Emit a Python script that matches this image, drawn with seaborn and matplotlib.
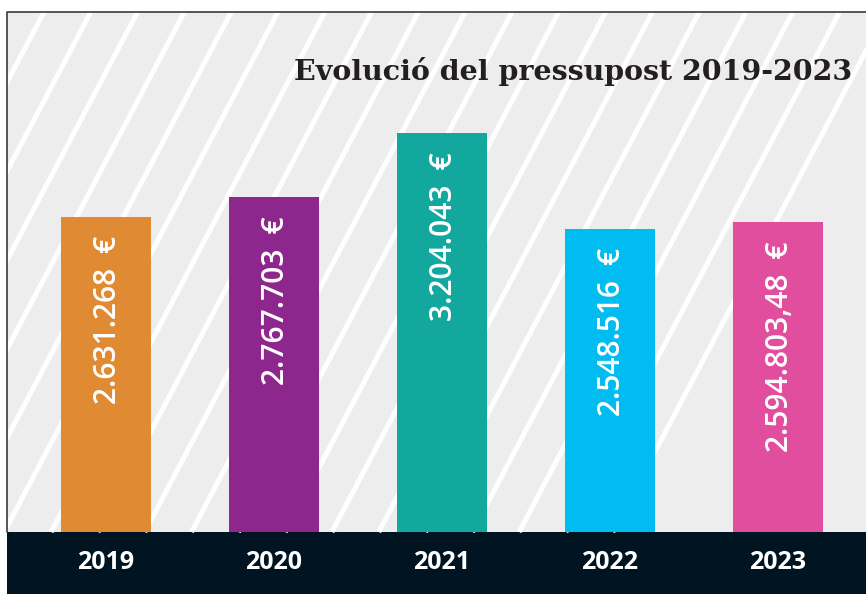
import numpy as np
import pandas as pd
import matplotlib
matplotlib.use("Agg")
import matplotlib.pyplot as plt
import seaborn as sns

years = ["2019", "2020", "2021", "2022", "2023"]
budget = [2631268, 2767703, 3204043, 2548516, 2594803.48]
labels = ["2.631.268 €", "2.767.703 €", "3.204.043 €", "2.548.516 €", "2.594.803,48 €"]
colors = ["#E08A33", "#8E278D", "#13A89E", "#00BCF0", "#E04E9D"]
title = "Evolució del pressupost 2019-2023"


def main():
    sns.set_theme(style="white")
    plt.rcParams["font.family"] = ["Open Sans", "DejaVu Sans"]

    W, H = 866, 594
    fig = plt.figure(figsize=(W / 100, H / 100), dpi=100)

    # background with diagonal stripes, in pixel coordinates
    bg = fig.add_axes([0, 0, 1, 1], zorder=0)
    bg.axis("off")
    bg.add_patch(plt.Rectangle((7, 12), W - 7, 520, color="#EDEDED", lw=0))
    slope = 1.9
    for x0 in np.arange(50 - 47 * 30, W + 47, 46.8):
        bg.plot([x0, x0 - 520 / slope], [12, 532], color="white", lw=3.6,
                solid_capstyle="butt")
    bg.add_patch(plt.Rectangle((7, 532), W - 7, H - 532, color="#001521", lw=0))
    bg.plot([7, 7, W], [532, 12, 12], color="#3a3a3a", lw=1.2)
    bg.set_xlim(0, W)
    bg.set_ylim(H, 0)

    df = pd.DataFrame({"year": years, "budget": budget})
    ax = fig.add_axes([7 / W, (H - 532) / H, (W - 7) / W, 520 / H], zorder=1)
    ax.patch.set_alpha(0)
    sns.barplot(data=df, x="year", y="budget", hue="year", palette=colors,
                width=0.536, saturation=1, legend=False, linewidth=0, ax=ax)
    ax.set_xlim(-0.589, 4.524)
    ax.set_ylim(478000, 4029000)
    for s in ax.spines.values():
        s.set_visible(False)
    ax.set_yticks([])
    ax.set_xlabel("")
    ax.set_ylabel("")
    ax.tick_params(axis="x", length=0, pad=13, labelsize=18, labelcolor="white")
    for t in ax.get_xticklabels():
        t.set_fontweight("bold")

    for i, (v, lab) in enumerate(zip(budget, labels)):
        ax.annotate(lab.replace(" €", "\u2002€"), (i, v), xytext=(1.5, -14),
                    textcoords="offset points", rotation=90, ha="center",
                    va="top", color="white", fontsize=21.5,
                    fontweight="semibold")

    fig.text(852 / W, 1 - 71 / H, title, ha="right", va="center",
             family="DejaVu Serif", fontweight="bold", fontsize=20.5,
             color="#231F20")

    fig.savefig("out.png", dpi=100)


if __name__ == "__main__":
    main()
